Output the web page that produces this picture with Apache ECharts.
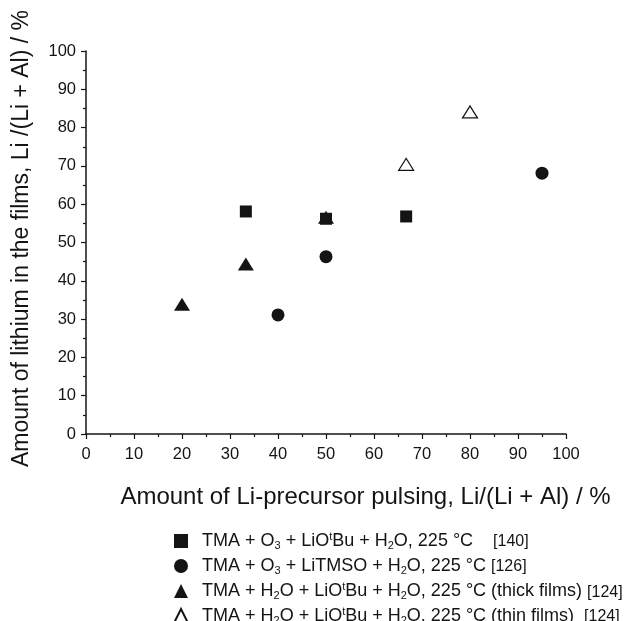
<!DOCTYPE html>
<html><head><meta charset="utf-8">
<script src="https://cdn.jsdelivr.net/npm/echarts@6/dist/echarts.min.js"></script>
<style>html,body{margin:0;padding:0;background:#fff}#c{width:629px;height:621px}</style>
</head><body><div id="c"></div>
<script>
const xTicks = [0,10,20,30,40,50,60,70,80,90,100];
const yTicks = [0,10,20,30,40,50,60,70,80,90,100];
const squareX = [33.3, 50, 66.7];
const squareY = [58.1, 56.2, 56.8];
const circleX = [40, 50, 95];
const circleY = [31.1, 46.3, 68.1];
const thickX = [20, 33.3, 50];
const thickY = [33.9, 44.4, 56.6];
const thinX = [66.7, 80];
const thinY = [70.4, 84.1];
const names = ['s140','c126','t124a','t124b'];
const labels = {
  s140: 'TMA + O{sub|3} + LiO{sup|t}Bu + H{sub|2}O, 225 °C    {ref|[140]}',
  c126: 'TMA + O{sub|3} + LiTMSO + H{sub|2}O, 225 °C {ref|[126]}',
  t124a: 'TMA + H{sub|2}O + LiO{sup|t}Bu + H{sub|2}O, 225 °C (thick films) {refl|[124]}',
  t124b: 'TMA + H{sub|2}O + LiO{sup|t}Bu + H{sub|2}O, 225 °C (thin films)  {ref|[124]}'
};
const zip = (a,b)=>a.map((v,i)=>[v,b[i]]);
const font = 'Liberation Sans, Arial, sans-serif';
const ink = '#141414';
const chart = echarts.init(document.getElementById('c'));
const axisCommon = {
  min: 0, max: 100, interval: 10,
  axisLine: {show: true, lineStyle: {color: ink, width: 1.5}},
  axisTick: {show: true, inside: false, length: 5, lineStyle: {color: ink, width: 1.2}},
  minorTick: {show: true, splitNumber: 2, length: 3, lineStyle: {color: ink, width: 1.2}},
  splitLine: {show: false},
  axisLabel: {color: ink, fontSize: 16.5, fontFamily: font, margin: 10}
};
chart.setOption({
  backgroundColor: '#fff',
  animation: false,
  grid: {left: 86, right: 63, top: 51, bottom: 187},
  xAxis: Object.assign({}, axisCommon, {
    type: 'value',
    name: 'Amount of Li-precursor pulsing, Li/(Li + Al) / %',
    nameLocation: 'middle', nameGap: 51,
    nameTextStyle: {color: ink, fontSize: 24, fontFamily: font, padding: [0,0,0,79]},
    axisLabel: Object.assign({}, axisCommon.axisLabel, {margin: 12, formatter: v => xTicks.includes(v) ? String(v) : ''})
  }),
  yAxis: Object.assign({}, axisCommon, {
    type: 'value',
    name: 'Amount of lithium in the films, Li /(Li + Al) / %',
    nameLocation: 'middle', nameGap: 53,
    nameTextStyle: {color: ink, fontSize: 23, fontFamily: font, padding: [0,0,0,8]},
    axisLabel: Object.assign({}, axisCommon.axisLabel, {formatter: v => yTicks.includes(v) ? String(v) : ''})
  }),
  legend: {
    orient: 'vertical', left: 168, top: 526, height: 200, itemGap: 5,
    itemWidth: 14, itemHeight: 14,
    data: names,
    formatter: n => labels[n],
    textStyle: {
      color: ink, fontSize: 18, fontFamily: font, lineHeight: 20, padding: [0,0,0,9],
      rich: {
        sub: {fontSize: 11, fontFamily: font, color: ink, verticalAlign: 'bottom', lineHeight: 20},
        sup: {fontSize: 11, fontFamily: font, color: ink, verticalAlign: 'top', lineHeight: 20},
        ref: {fontSize: 16, fontFamily: font, color: ink, verticalAlign: 'bottom', lineHeight: 18, padding: [0,0,1,0]},
        refl: {fontSize: 16, fontFamily: font, color: ink, verticalAlign: 'bottom', lineHeight: 18}
      }
    }
  },
  series: [
    {name: 's140', type: 'scatter', symbol: 'rect', symbolSize: 12, data: zip(squareX, squareY), itemStyle: {color: ink, opacity: 1}, z: 3},
    {name: 'c126', type: 'scatter', symbol: 'circle', symbolSize: 13, data: zip(circleX, circleY), itemStyle: {color: ink, opacity: 1}},
    {name: 't124a', type: 'scatter', symbol: 'triangle', symbolSize: [16, 13], data: zip(thickX, thickY), itemStyle: {color: ink, opacity: 1}, z: 2},
    {name: 't124b', type: 'scatter', symbol: 'triangle', symbolSize: [15, 12], data: zip(thinX, thinY), itemStyle: {color: '#fff', borderColor: ink, borderWidth: 1.2, opacity: 1}}
  ]
});
</script></body></html>
